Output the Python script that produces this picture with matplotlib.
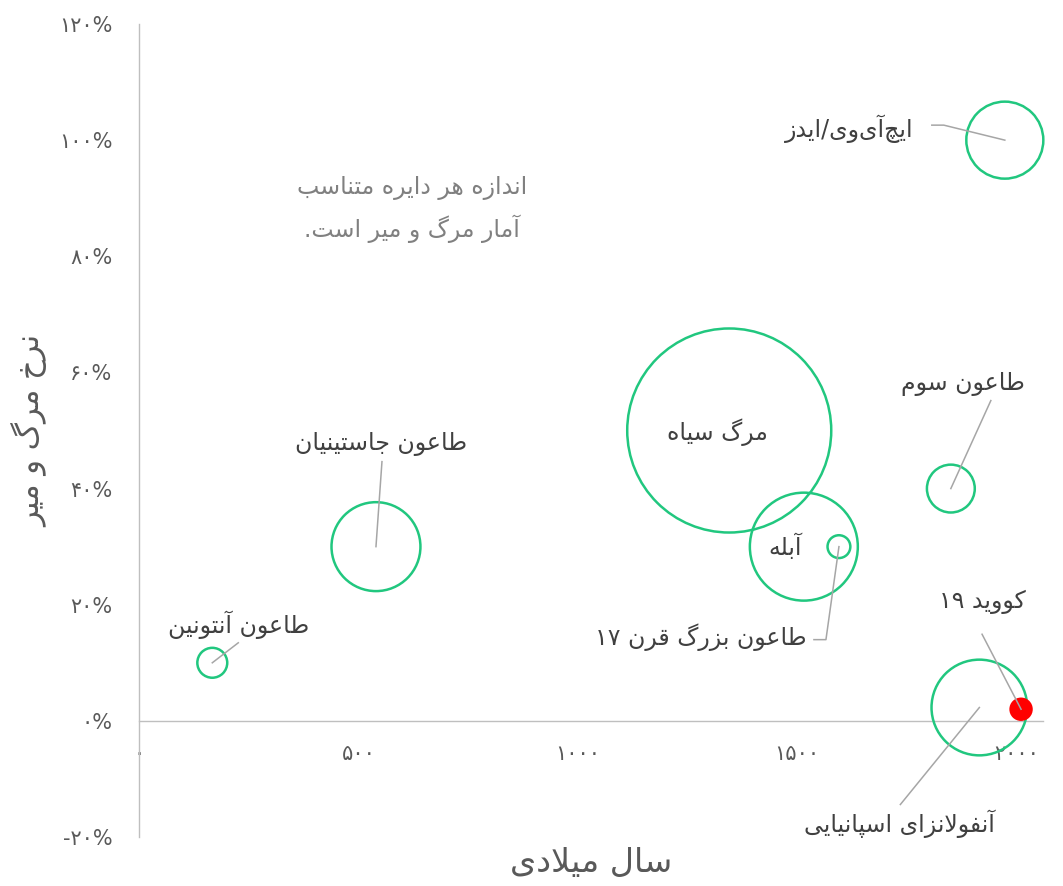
#!/usr/bin/env python3
"""Bubble chart of historic pandemics: year vs. death rate, bubble area = deaths."""

import re

import matplotlib

matplotlib.use("Agg")
import matplotlib.pyplot as plt
from matplotlib.lines import Line2D
from matplotlib.transforms import ScaledTranslation

# data
names = [
    "طاعون آنتونین",
    "طاعون جاستینیان",
    "مرگ سیاه",
    "آبله",
    "طاعون بزرگ قرن ۱۷",
    "طاعون سوم",
    "ایچ\u200cآی\u200cوی/ایدز",
    "آنفولانزای اسپانیایی",
    "کووید ۱۹",
]
years = [167, 540, 1345, 1515, 1595, 1850, 1973, 1915, 2010]
death_rate = [0.10, 0.30, 0.50, 0.30, 0.30, 0.40, 1.00, 0.023, 0.02]
deaths_m = [4.3, 38, 200, 56, 2.5, 11, 28.5, 44, 2.1]
highlight = "کووید ۱۹"

x_ticks = [0, 500, 1000, 1500, 2000]
x_tick_labels = ["۰", "۵۰۰", "۱۰۰۰", "۱۵۰۰", "۲۰۰۰"]
y_ticks = [-0.2, 0.0, 0.2, 0.4, 0.6, 0.8, 1.0, 1.2]
y_tick_labels = ["-۲۰%", "۰%", "۲۰%", "۴۰%", "۶۰%", "۸۰%", "۱۰۰%", "۱۲۰%"]

x_title = "سال میلادی"
y_title = "نرخ مرگ و میر"
note = "اندازه هر دایره متناسب\nآمار مرگ و میر است."

# label placement (pixels from bubble centre, y up) and leader polylines
label_offsets = [(26, 38), (5, 103), (-12, -2), (-19, 0), (-138, -91),
                 (12, 105), (-156, 11), (-80, -116), (-39, 107)]
leaders = [
    [(0, 0), (26, 20)],
    [(0, 0), (6, 85)],
    None,
    None,
    [(0, 0), (-13, -93), (-25, -93)],
    [(0, 0), (40, 88)],
    [(0, 0), (-61, 15), (-73, 15)],
    [(0, 0), (-79, -97)],
    [(0, 0), (-39, 75)],
]

GREEN = "#21c77f"
RED = "#ff0000"
LEADER = "#a6a6a6"
AXIS = "#bfbfbf"

# --- minimal Persian shaping (matplotlib 3.10 has no complex text layout) ---
AR_FORMS = {
    "ا": ("\ufe8d", "\ufe8e", None, None),
    "آ": ("\ufe81", "\ufe82", None, None),
    "ب": ("\ufe8f", "\ufe90", "\ufe91", "\ufe92"),
    "پ": ("\ufb56", "\ufb57", "\ufb58", "\ufb59"),
    "ت": ("\ufe95", "\ufe96", "\ufe97", "\ufe98"),
    "ج": ("\ufe9d", "\ufe9e", "\ufe9f", "\ufea0"),
    "چ": ("\ufb7a", "\ufb7b", "\ufb7c", "\ufb7d"),
    "خ": ("\ufea5", "\ufea6", "\ufea7", "\ufea8"),
    "د": ("\ufea9", "\ufeaa", None, None),
    "ر": ("\ufead", "\ufeae", None, None),
    "ز": ("\ufeaf", "\ufeb0", None, None),
    "س": ("\ufeb1", "\ufeb2", "\ufeb3", "\ufeb4"),
    "ط": ("\ufec1", "\ufec2", "\ufec3", "\ufec4"),
    "ع": ("\ufec9", "\ufeca", "\ufecb", "\ufecc"),
    "ف": ("\ufed1", "\ufed2", "\ufed3", "\ufed4"),
    "ق": ("\ufed5", "\ufed6", "\ufed7", "\ufed8"),
    "ک": ("\ufb8e", "\ufb8f", "\ufb90", "\ufb91"),
    "گ": ("\ufb92", "\ufb93", "\ufb94", "\ufb95"),
    "ل": ("\ufedd", "\ufede", "\ufedf", "\ufee0"),
    "م": ("\ufee1", "\ufee2", "\ufee3", "\ufee4"),
    "ن": ("\ufee5", "\ufee6", "\ufee7", "\ufee8"),
    "ه": ("\ufee9", "\ufeea", "\ufeeb", "\ufeec"),
    "و": ("\ufeed", "\ufeee", None, None),
    "ی": ("\ufbfc", "\ufbfd", "\ufbfe", "\ufbff"),
}
LAM_ALEF = {"ا": ("\ufefb", "\ufefc"), "آ": ("\ufef5", "\ufef6")}


def _joins_next(c):
    return c in AR_FORMS and AR_FORMS[c][2] is not None


def shape_fa(text):
    out = []
    i = 0
    while i < len(text):
        c = text[i]
        prev = text[i - 1] if i > 0 else ""
        nxt = text[i + 1] if i + 1 < len(text) else ""
        linked = _joins_next(prev)
        if c == "ل" and nxt in LAM_ALEF:
            out.append(LAM_ALEF[nxt][1 if linked else 0])
            i += 2
            continue
        if c in AR_FORMS:
            iso, fin, ini, med = AR_FORMS[c]
            to_next = ini is not None and nxt in AR_FORMS
            if linked and to_next:
                out.append(med)
            elif linked:
                out.append(fin)
            elif to_next:
                out.append(ini)
            else:
                out.append(iso)
        elif c != "\u200c":
            out.append(c)
        i += 1
    return "".join(out)


def fa(text):
    lines = []
    for line in text.split("\n"):
        runs = re.findall(r"\d+|\D+", shape_fa(line))
        lines.append("".join(r if r[0].isdigit() else r[::-1] for r in reversed(runs)))
    return "\n".join(lines)


plt.rcParams["font.family"] = ["DejaVu Sans"]

W, H = 1063, 886
fig = plt.figure(figsize=(W / 100, H / 100), dpi=100)
ax = fig.add_axes([139 / W, 49 / H, 904 / W, 813 / H])
ax.set_xlim(0, 2060)
ax.set_ylim(-0.2, 1.2)

# bubble area proportional to deaths; 200M -> radius ~102 px
size_scale = 107.9
sizes = [d * size_scale for d in deaths_m]
faces = [RED if n == highlight else "none" for n in names]
edges = [RED if n == highlight else GREEN for n in names]
ax.scatter(years, death_rate, s=sizes, facecolors=faces, edgecolors=edges,
           linewidths=1.8, zorder=3, clip_on=False)

px = 0.72  # points per pixel at dpi 100
for name, x, y, (dx, dy), lead in zip(names, years, death_rate, label_offsets, leaders):
    ax.annotate(fa(name), xy=(x, y), xytext=(dx * px, dy * px),
                textcoords="offset points", ha="center", va="center",
                fontsize=17, color="#404040", zorder=5)
    if lead:
        tf = fig.dpi_scale_trans + ScaledTranslation(x, y, ax.transData)
        xs = [p[0] * px / 72 for p in lead]
        ys = [p[1] * px / 72 for p in lead]
        ax.add_line(Line2D(xs, ys, transform=tf, color=LEADER, lw=1.1,
                           zorder=4, clip_on=False))

ax.text(0.302, 0.772, fa(note), transform=ax.transAxes, ha="center", va="center",
        fontsize=17, color="#808080", linespacing=1.65)

for side in ("top", "right"):
    ax.spines[side].set_visible(False)
ax.spines["bottom"].set_position(("data", 0))
for side in ("left", "bottom"):
    ax.spines[side].set_color(AXIS)
    ax.spines[side].set_linewidth(1.0)

ax.set_xticks(x_ticks, x_tick_labels)
ax.set_yticks(y_ticks, y_tick_labels)
ax.tick_params(axis="both", length=0, labelsize=15, labelcolor="#595959")
ax.tick_params(axis="x", pad=17)
ax.tick_params(axis="y", pad=19)

ax.set_xlabel(fa(x_title), fontsize=24, color="#595959")
ax.xaxis.set_label_coords(0.5, -0.031)
ax.xaxis.label.set_va("center")
ax.set_ylabel(fa(y_title), fontsize=22, color="#595959")
ax.yaxis.set_label_coords(-0.1206, 0.5)
ax.yaxis.label.set_va("center")

fig.savefig("out.png", dpi=100)
